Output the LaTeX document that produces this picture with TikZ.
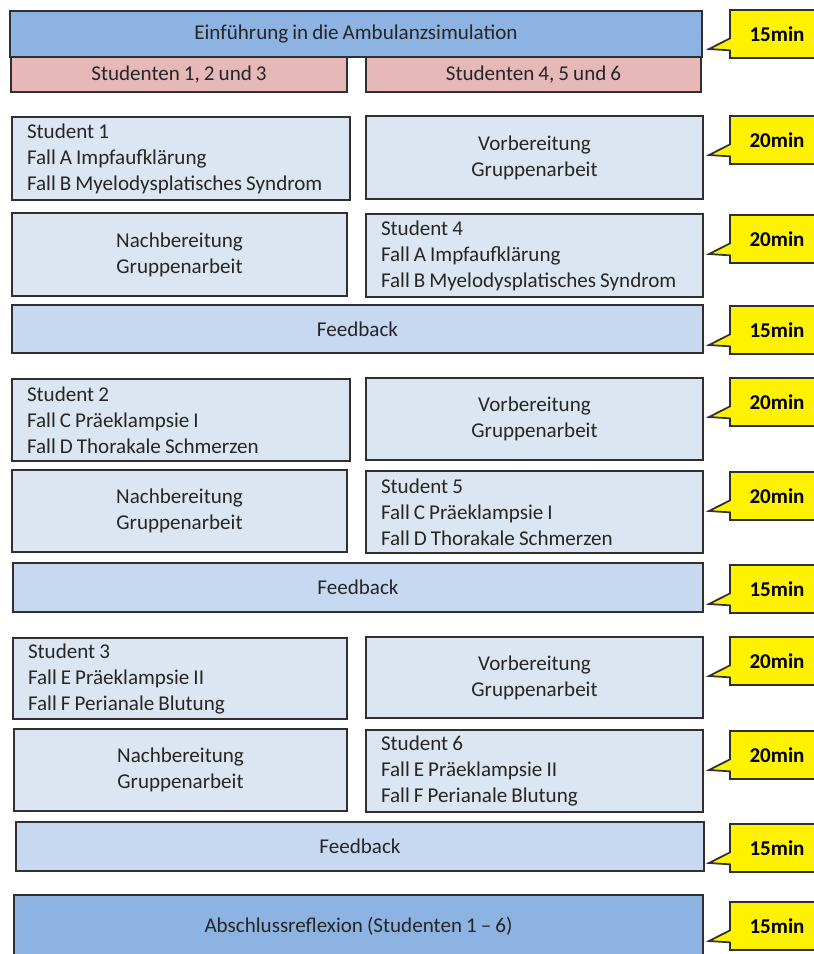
\documentclass[tikz,border=0pt]{standalone}
\usepackage{fontspec}
\setmainfont{Carlito}[WordSpace=0.85]
\usetikzlibrary{shapes.callouts}
\definecolor{dblue}{HTML}{8DB3E2}
\definecolor{pinkc}{HTML}{E6B9B8}
\definecolor{lblue}{HTML}{DCE6F2}
\definecolor{mblue}{HTML}{C6D9F1}
\definecolor{edgec}{HTML}{303030}
\tikzset{
  base/.style={draw=edgec, line width=1.3pt, rectangle, inner sep=0pt,
    font=\fontsize{15.8}{19.5}\selectfont, text=black!85},
  darkbox/.style={base, fill=dblue, align=center},
  pinkbox/.style={base, fill=pinkc, align=center},
  lightbox/.style={base, fill=lblue, align=center},
  fbbox/.style={base, fill=mblue, align=center},
  tmin/.style={rectangle callout, draw=edgec, fill=yellow, line width=1.3pt,
    minimum width={94*0.75pt}, minimum height={48*0.75pt}, inner sep=0pt,
    callout pointer width=9pt,
    font=\fontsize{15.8}{19.5}\selectfont\bfseries}
}
\newcommand\bx[7]{%
  \node[#6, minimum width={(#4-#2)*0.75pt}, minimum height={(#5-#3)*0.75pt}]
    (#1) at ({(#2+#4)/2},{(#3+#5)/2}) {#7};}
\newcommand\lbx[7]{%
  \pgfmathsetlengthmacro\mytw{(#4-#2-30)*0.75pt}%
  \node[#6, text width=\mytw, align=flush left, minimum width={(#4-#2)*0.75pt}, minimum height={(#5-#3)*0.75pt}]
    (#1) at ({(#2+#4)/2},{(#3+#5)/2+1}) {#7};}
\newcommand\tm[3]{%
  \node[tmin, callout absolute pointer={(709,{#2+39})}] (#1) at (777,{#2+24}) {#3};}
\begin{document}
\begin{tikzpicture}[x=0.75pt, y=-0.75pt]
\clip (0,0) rectangle (814,954);
\fill[white] (0,0) rectangle (814,954);
% header
\bx{g1}{11}{57}{347}{92}{pinkbox}{Studenten 1, 2 und 3}
\bx{g2}{366}{57}{701}{92}{pinkbox}{Studenten 4, 5 und 6}
\bx{intro}{10}{11}{702}{57}{darkbox}{Einführung in die Ambulanzsimulation}
% block 1
\lbx{s1}{12}{116}{350}{199}{lightbox}{Student 1\\Fall A Impfaufklärung\\Fall B Myelodysplatisches Syndrom}
\bx{v1}{366}{116}{703}{199}{lightbox}{Vorbereitung\\Gruppenarbeit}
\bx{n1}{12}{213}{347}{296}{lightbox}{Nachbereitung\\Gruppenarbeit}
\lbx{s4}{366}{213}{703}{296}{lightbox}{Student 4\\Fall A Impfaufklärung\\Fall B Myelodysplatisches Syndrom}
\bx{f1}{12}{305}{703}{353}{fbbox}{Feedback}
% block 2
\lbx{s2}{12}{378}{350}{460}{lightbox}{Student 2\\Fall C Präeklampsie I\\Fall D Thorakale Schmerzen}
\bx{v2}{366}{378}{703}{460}{lightbox}{Vorbereitung\\Gruppenarbeit}
\bx{n2}{12}{470}{347}{552}{lightbox}{Nachbereitung\\Gruppenarbeit}
\lbx{s5}{366}{470}{703}{552}{lightbox}{Student 5\\Fall C Präeklampsie I\\Fall D Thorakale Schmerzen}
\bx{f2}{13}{563}{703}{612}{fbbox}{Feedback}
% block 3
\lbx{s3}{13}{637}{347}{718}{lightbox}{Student 3\\Fall E Präeklampsie II\\Fall F Perianale Blutung}
\bx{v3}{366}{637}{703}{718}{lightbox}{Vorbereitung\\Gruppenarbeit}
\bx{n3}{14}{729}{347}{811}{lightbox}{Nachbereitung\\Gruppenarbeit}
\lbx{s6}{366}{729}{703}{811}{lightbox}{Student 6\\Fall E Präeklampsie II\\Fall F Perianale Blutung}
\bx{f3}{16}{822}{704}{871}{fbbox}{Feedback}
% final
\bx{fin}{14}{895}{703}{958}{darkbox}{Abschlussreflexion (Studenten 1 – 6)}
% time callouts
\tm{t0}{10}{15min}
\tm{t1}{116}{20min}
\tm{t2}{215}{20min}
\tm{t3}{306}{15min}
\tm{t4}{378}{20min}
\tm{t5}{472}{20min}
\tm{t6}{565}{15min}
\tm{t7}{637}{20min}
\tm{t8}{731}{20min}
\tm{t9}{824}{15min}
\tm{t10}{902}{15min}
\end{tikzpicture}
\end{document}
